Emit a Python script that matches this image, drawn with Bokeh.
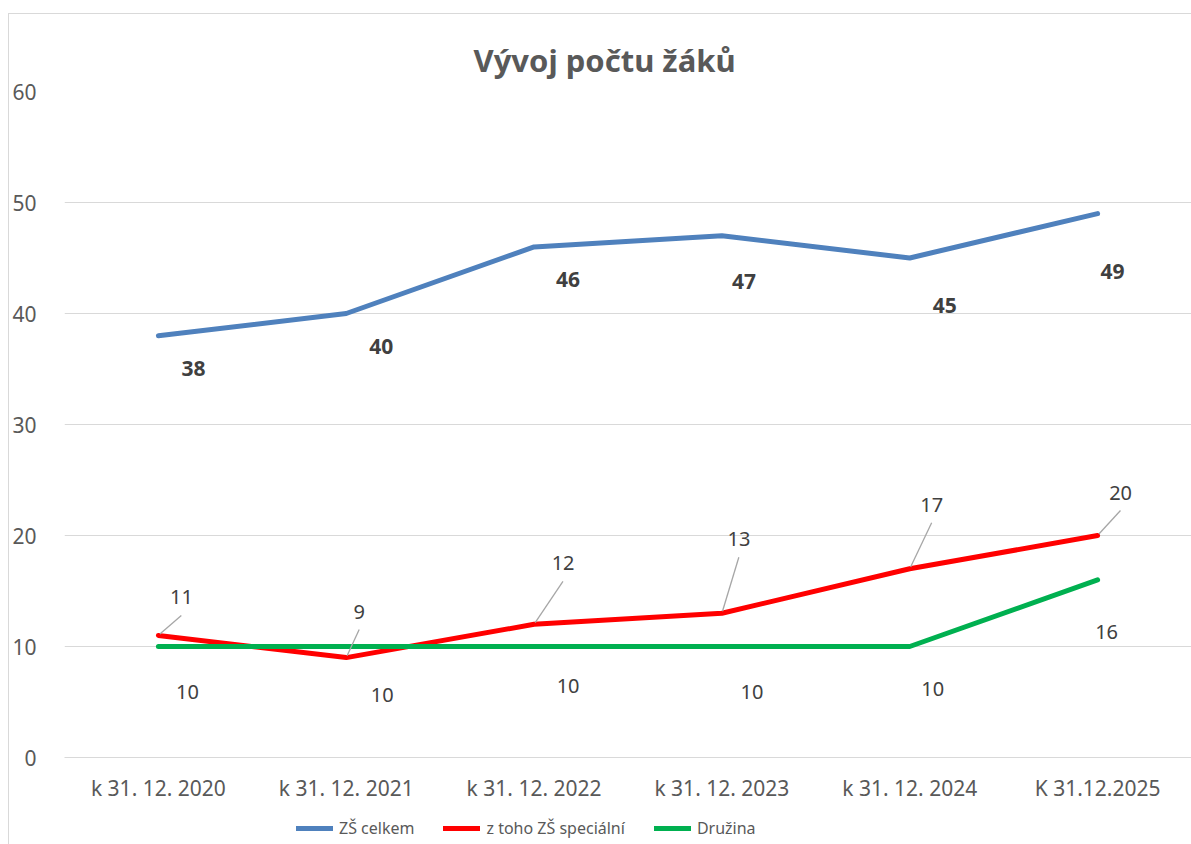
import math
from bokeh.plotting import figure
from bokeh.layouts import column
from bokeh.models import ColumnDataSource, Range1d, FixedTicker, Legend, LegendItem
from bokeh.core.properties import value
from bokeh.embed import file_html
from bokeh.resources import INLINE

# ---- data ----
categories = ["k 31. 12. 2020", "k 31. 12. 2021", "k 31. 12. 2022",
              "k 31. 12. 2023", "k 31. 12. 2024", "K 31.12.2025"]
zs_celkem = [38, 40, 46, 47, 45, 49]
zs_specialni = [11, 9, 12, 13, 17, 20]
druzina = [10, 10, 10, 10, 10, 16]
y_ticks = [0, 10, 20, 30, 40, 50, 60]
series_names = ["ZŠ celkem", "z toho ZŠ speciální", "Družina"]

# ---- label placement styles (pixel offsets: right, down) ----
blue_off = [(35, 33), (35, 33), (34, 33), (22, 46), (35, 47), (15, 58)]
red_off = [(23, -38), (13, -46), (29, -61), (17, -74), (22, -64), (23, -43)]
green_off = [(29, 45), (36, 48), (34, 39), (30, 45), (23, 42), (9, 52)]

FONT = "Noto Sans"
TXT = "#404040"
AX = "#595959"
GRID = "#d9d9d9"
COLORS = ["#4F81BD", "#FF0000", "#00B050"]

W, H = 1182, 792
ML, MR, MT, MB = 50, 0, 77, 49
FW = W - ML - MR
FH = H - MT - MB

xs = list(range(len(categories)))
p = figure(width=W, height=H, x_range=Range1d(-0.5, len(categories) - 0.5),
           y_range=Range1d(0, 60), output_backend="svg", toolbar_location=None,
           min_border_left=ML, min_border_right=MR, min_border_top=MT,
           min_border_bottom=MB, title="Vývoj počtu žáků")
p.outline_line_color = None
p.background_fill_color = "white"
p.border_fill_color = "white"

p.title.align = "left"
p.title.offset = 409
p.title.standoff = 21
p.title.text_font = FONT
p.title.text_font_size = "31px"
p.title.text_font_style = "bold"
p.title.text_color = AX

p.xgrid.visible = False
p.ygrid.grid_line_color = GRID
p.ygrid.ticker = FixedTicker(ticks=y_ticks)

p.xaxis.ticker = FixedTicker(ticks=xs)
p.xaxis.major_label_overrides = {i: c for i, c in enumerate(categories)}
p.xaxis.axis_line_color = GRID
p.xaxis.major_tick_line_color = None
p.xaxis.minor_tick_line_color = None
p.xaxis.major_label_standoff = 10
p.xaxis.major_label_text_font = FONT
p.xaxis.major_label_text_font_size = "21px"
p.xaxis.major_label_text_color = AX

p.yaxis.ticker = FixedTicker(ticks=y_ticks)
p.yaxis.axis_line_color = None
p.yaxis.major_tick_line_color = None
p.yaxis.minor_tick_line_color = None
p.yaxis.major_label_standoff = 22
p.yaxis.major_label_text_font = FONT
p.yaxis.major_label_text_font_size = "21px"
p.yaxis.major_label_text_color = AX

for ys, col in zip([zs_celkem, zs_specialni, druzina], COLORS):
    p.line(xs, ys, line_color=col, line_width=5, line_cap="round", line_join="round")

px_x = FW / len(categories)
px_y = FH / 60.0

# leader lines for red labels
x0s, y0s, x1s, y1s = [], [], [], []
for x, y, (dx, dy) in zip(xs, zs_specialni, red_off):
    ex, ey = dx, dy + 18
    L = math.hypot(ex, ey)
    sx, sy = 2 * ex / L, 2 * ey / L
    x0s.append(x + sx / px_x); y0s.append(y - sy / px_y)
    x1s.append(x + ex / px_x); y1s.append(y - ey / px_y)
p.segment(x0s, y0s, x1s, y1s, line_color="#a6a6a6", line_width=1.3)


def labels(ys, offs, bold):
    src = ColumnDataSource(dict(x=xs, y=ys, t=[str(v) for v in ys],
                                dx=[o[0] for o in offs], dy=[o[1] for o in offs]))
    p.text(x="x", y="y", text="t", source=src, x_offset="dx", y_offset="dy",
           text_align="center", text_baseline="middle", text_font=value(FONT),
           text_font_size="21px" if bold else "20px", text_color=TXT,
           text_font_style="bold" if bold else "normal")


labels(zs_celkem, blue_off, True)
labels(zs_specialni, red_off, False)
labels(druzina, green_off, False)

# ---- legend strip below the chart ----
LH = 38
pl = figure(width=W, height=LH, x_range=Range1d(0, 1), y_range=Range1d(0, 1),
            output_backend="svg", toolbar_location=None,
            x_axis_location=None, y_axis_location=None, min_border=0)
pl.outline_line_color = None
pl.grid.visible = False
pl.border_fill_color = "white"
# key renderers kept outside the visible range: only their legend swatches show
leg_r = [pl.line([0, 1], [-5, -5], line_color=c, line_width=5, line_cap="round") for c in COLORS]
legend = Legend(items=[LegendItem(label=n, renderers=[r]) for n, r in zip(series_names, leg_r)],
                location=(232, 5), orientation="horizontal",
                glyph_width=37, glyph_height=20, label_standoff=6, spacing=29,
                padding=0, margin=0, border_line_color=None, background_fill_alpha=0,
                label_text_font=FONT, label_text_font_size="16px", label_text_color=AX)
pl.add_layout(legend)

layout = column(p, pl, spacing=0,
                styles={"position": "relative", "top": "13px", "left": "8px",
                        "border-left": "1px solid #d9d9d9", "border-top": "1px solid #d9d9d9"})

open("out.html", "w").write(file_html(layout, INLINE))
